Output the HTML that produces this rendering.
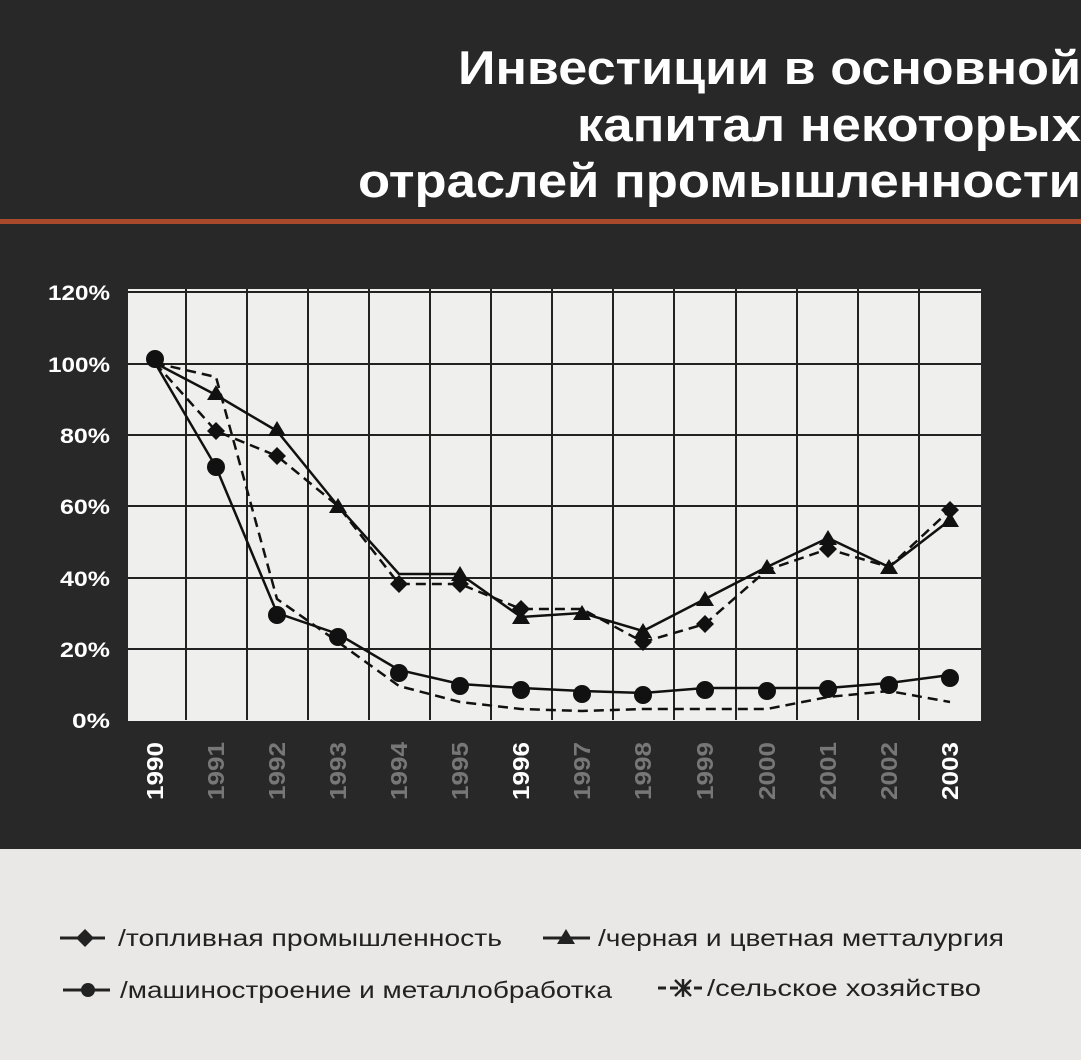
<!DOCTYPE html>
<html><head><meta charset="utf-8"><style>
body{margin:0;width:1081px;height:1060px;overflow:hidden;background:#e9e8e7;font-family:"Liberation Sans","DejaVu Sans",sans-serif}
#top{position:absolute;left:0;top:0;width:1081px;height:849px;background:#282828}
</style></head><body>
<div id="top"></div>
<div style="position:absolute;left:0;top:219px;width:1081px;height:5px;background:#a94a2c"></div>
<svg width="1081" height="1060" style="position:absolute;left:0;top:0">
<g fill="#fff" font-weight="bold" font-size="47" font-family="Liberation Sans, sans-serif">
<text x="458" y="84" textLength="623" lengthAdjust="spacingAndGlyphs">Инвестиции в основной</text>
<text x="577" y="141" textLength="504" lengthAdjust="spacingAndGlyphs">капитал некоторых</text>
<text x="358" y="197" textLength="723" lengthAdjust="spacingAndGlyphs">отраслей промышленности</text>
</g>
<rect x="128" y="289" width="853" height="432" fill="#efefed"/>
<g stroke="#222" stroke-width="2">
<line x1="128" y1="292" x2="981" y2="292"/><line x1="128" y1="364" x2="981" y2="364"/><line x1="128" y1="435" x2="981" y2="435"/><line x1="128" y1="506" x2="981" y2="506"/><line x1="128" y1="578" x2="981" y2="578"/><line x1="128" y1="649" x2="981" y2="649"/>
<line x1="186" y1="289" x2="186" y2="720"/><line x1="247" y1="289" x2="247" y2="720"/><line x1="308" y1="289" x2="308" y2="720"/><line x1="369" y1="289" x2="369" y2="720"/><line x1="430" y1="289" x2="430" y2="720"/><line x1="491" y1="289" x2="491" y2="720"/><line x1="552" y1="289" x2="552" y2="720"/><line x1="613" y1="289" x2="613" y2="720"/><line x1="674" y1="289" x2="674" y2="720"/><line x1="736" y1="289" x2="736" y2="720"/><line x1="797" y1="289" x2="797" y2="720"/><line x1="858" y1="289" x2="858" y2="720"/><line x1="919" y1="289" x2="919" y2="720"/>
</g>
<g fill="none" stroke="#111" stroke-width="2.5">
<polyline stroke-dasharray="10,6" points="155,363 216,431 277,456 338,506 399,584 460,584 521,609 582,609 643,642 705,624 767,570 828,549 889,567 950,510"/>
<polyline points="155,363 216,395 277,431 338,506 399,574 460,574 521,617 582,613 643,631 705,599 767,567 828,538 889,567 950,520"/>
<polyline points="155,363 216,467 277,613 338,634 399,670 460,684 521,688 582,691 643,693 705,688 767,688 828,688 889,683 950,675"/>
<polyline stroke-dasharray="10,6" points="155,363 216,377 277,599 338,642 399,686 460,702 521,709 582,711 643,709 705,709 767,709 828,697 889,691 950,702"/>
</g>
<g fill="#111">
<circle cx="155" cy="359" r="9"/>
<path d="M216,422 l9,9 -9,9 -9,-9z"/><path d="M277,447 l9,9 -9,9 -9,-9z"/><path d="M399,575 l9,9 -9,9 -9,-9z"/><path d="M460,575 l9,9 -9,9 -9,-9z"/><path d="M521,600 l9,9 -9,9 -9,-9z"/><path d="M643,633 l9,9 -9,9 -9,-9z"/><path d="M705,615 l9,9 -9,9 -9,-9z"/><path d="M828,540 l9,9 -9,9 -9,-9z"/><path d="M950,501 l9,9 -9,9 -9,-9z"/>
<path d="M216,385 l9,15 -18,0z"/><path d="M277,421 l9,15 -18,0z"/><path d="M338,498 l9,15 -18,0z"/><path d="M460,566 l9,15 -18,0z"/><path d="M521,609 l9,15 -18,0z"/><path d="M582,605 l9,15 -18,0z"/><path d="M643,623 l9,15 -18,0z"/><path d="M705,591 l9,15 -18,0z"/><path d="M767,559 l9,15 -18,0z"/><path d="M828,530 l9,15 -18,0z"/><path d="M889,559 l9,15 -18,0z"/><path d="M950,512 l9,15 -18,0z"/>
<circle cx="216" cy="467" r="9"/><circle cx="277" cy="615" r="9"/><circle cx="338" cy="637" r="9"/><circle cx="399" cy="673" r="9"/><circle cx="460" cy="686" r="9"/><circle cx="521" cy="690" r="9"/><circle cx="582" cy="694" r="9"/><circle cx="643" cy="695" r="9"/><circle cx="705" cy="690" r="9"/><circle cx="767" cy="691" r="9"/><circle cx="828" cy="689" r="9"/><circle cx="889" cy="685" r="9"/><circle cx="950" cy="678" r="9"/>
</g>
<g fill="#fff" font-weight="bold" font-size="21" text-anchor="end">
<text x="110" y="300" textLength="62" lengthAdjust="spacingAndGlyphs">120%</text><text x="110" y="372" textLength="62" lengthAdjust="spacingAndGlyphs">100%</text><text x="110" y="443" textLength="50" lengthAdjust="spacingAndGlyphs">80%</text><text x="110" y="514" textLength="50" lengthAdjust="spacingAndGlyphs">60%</text><text x="110" y="586" textLength="50" lengthAdjust="spacingAndGlyphs">40%</text><text x="110" y="657" textLength="50" lengthAdjust="spacingAndGlyphs">20%</text><text x="110" y="728" textLength="38" lengthAdjust="spacingAndGlyphs">0%</text>
</g>
<g font-weight="bold" font-size="23" fill="#777">
<text transform="translate(163,800) rotate(-90)" fill="#fff" textLength="58" lengthAdjust="spacingAndGlyphs">1990</text>
<text transform="translate(224,800) rotate(-90)" textLength="58" lengthAdjust="spacingAndGlyphs">1991</text>
<text transform="translate(285,800) rotate(-90)" textLength="58" lengthAdjust="spacingAndGlyphs">1992</text>
<text transform="translate(346,800) rotate(-90)" textLength="58" lengthAdjust="spacingAndGlyphs">1993</text>
<text transform="translate(407,800) rotate(-90)" textLength="58" lengthAdjust="spacingAndGlyphs">1994</text>
<text transform="translate(468,800) rotate(-90)" textLength="58" lengthAdjust="spacingAndGlyphs">1995</text>
<text transform="translate(529,800) rotate(-90)" fill="#fff" textLength="58" lengthAdjust="spacingAndGlyphs">1996</text>
<text transform="translate(590,800) rotate(-90)" textLength="58" lengthAdjust="spacingAndGlyphs">1997</text>
<text transform="translate(651,800) rotate(-90)" textLength="58" lengthAdjust="spacingAndGlyphs">1998</text>
<text transform="translate(713,800) rotate(-90)" textLength="58" lengthAdjust="spacingAndGlyphs">1999</text>
<text transform="translate(775,800) rotate(-90)" textLength="58" lengthAdjust="spacingAndGlyphs">2000</text>
<text transform="translate(836,800) rotate(-90)" textLength="58" lengthAdjust="spacingAndGlyphs">2001</text>
<text transform="translate(897,800) rotate(-90)" textLength="58" lengthAdjust="spacingAndGlyphs">2002</text>
<text transform="translate(958,800) rotate(-90)" fill="#fff" textLength="58" lengthAdjust="spacingAndGlyphs">2003</text>
</g>
<g stroke="#222" stroke-width="3" fill="none">
<line x1="60" y1="938" x2="105" y2="938"/><line x1="543" y1="938" x2="590" y2="938"/>
<line x1="63" y1="990" x2="110" y2="990"/><line x1="658" y1="988" x2="705" y2="988" stroke-dasharray="8,4"/>
</g>
<g fill="#222">
<path d="M85,929 l9,9 -9,9 -9,-9z"/><path d="M566,929 l9,15 -18,0z"/><circle cx="88" cy="990" r="7"/>
</g>
<g stroke="#222" stroke-width="2.5"><line x1="675" y1="980" x2="691" y2="996"/><line x1="691" y1="980" x2="675" y2="996"/><line x1="683" y1="979" x2="683" y2="997"/></g>
<g fill="#222" font-size="23">
<text x="118" y="946" textLength="384" lengthAdjust="spacingAndGlyphs">/топливная промышленность</text>
<text x="598" y="946" textLength="406" lengthAdjust="spacingAndGlyphs">/черная и цветная метталургия</text>
<text x="120" y="998" textLength="492" lengthAdjust="spacingAndGlyphs">/машиностроение и металлобработка</text>
<text x="707" y="996" textLength="274" lengthAdjust="spacingAndGlyphs">/сельское хозяйство</text>
</g>
</svg>
</body></html>
